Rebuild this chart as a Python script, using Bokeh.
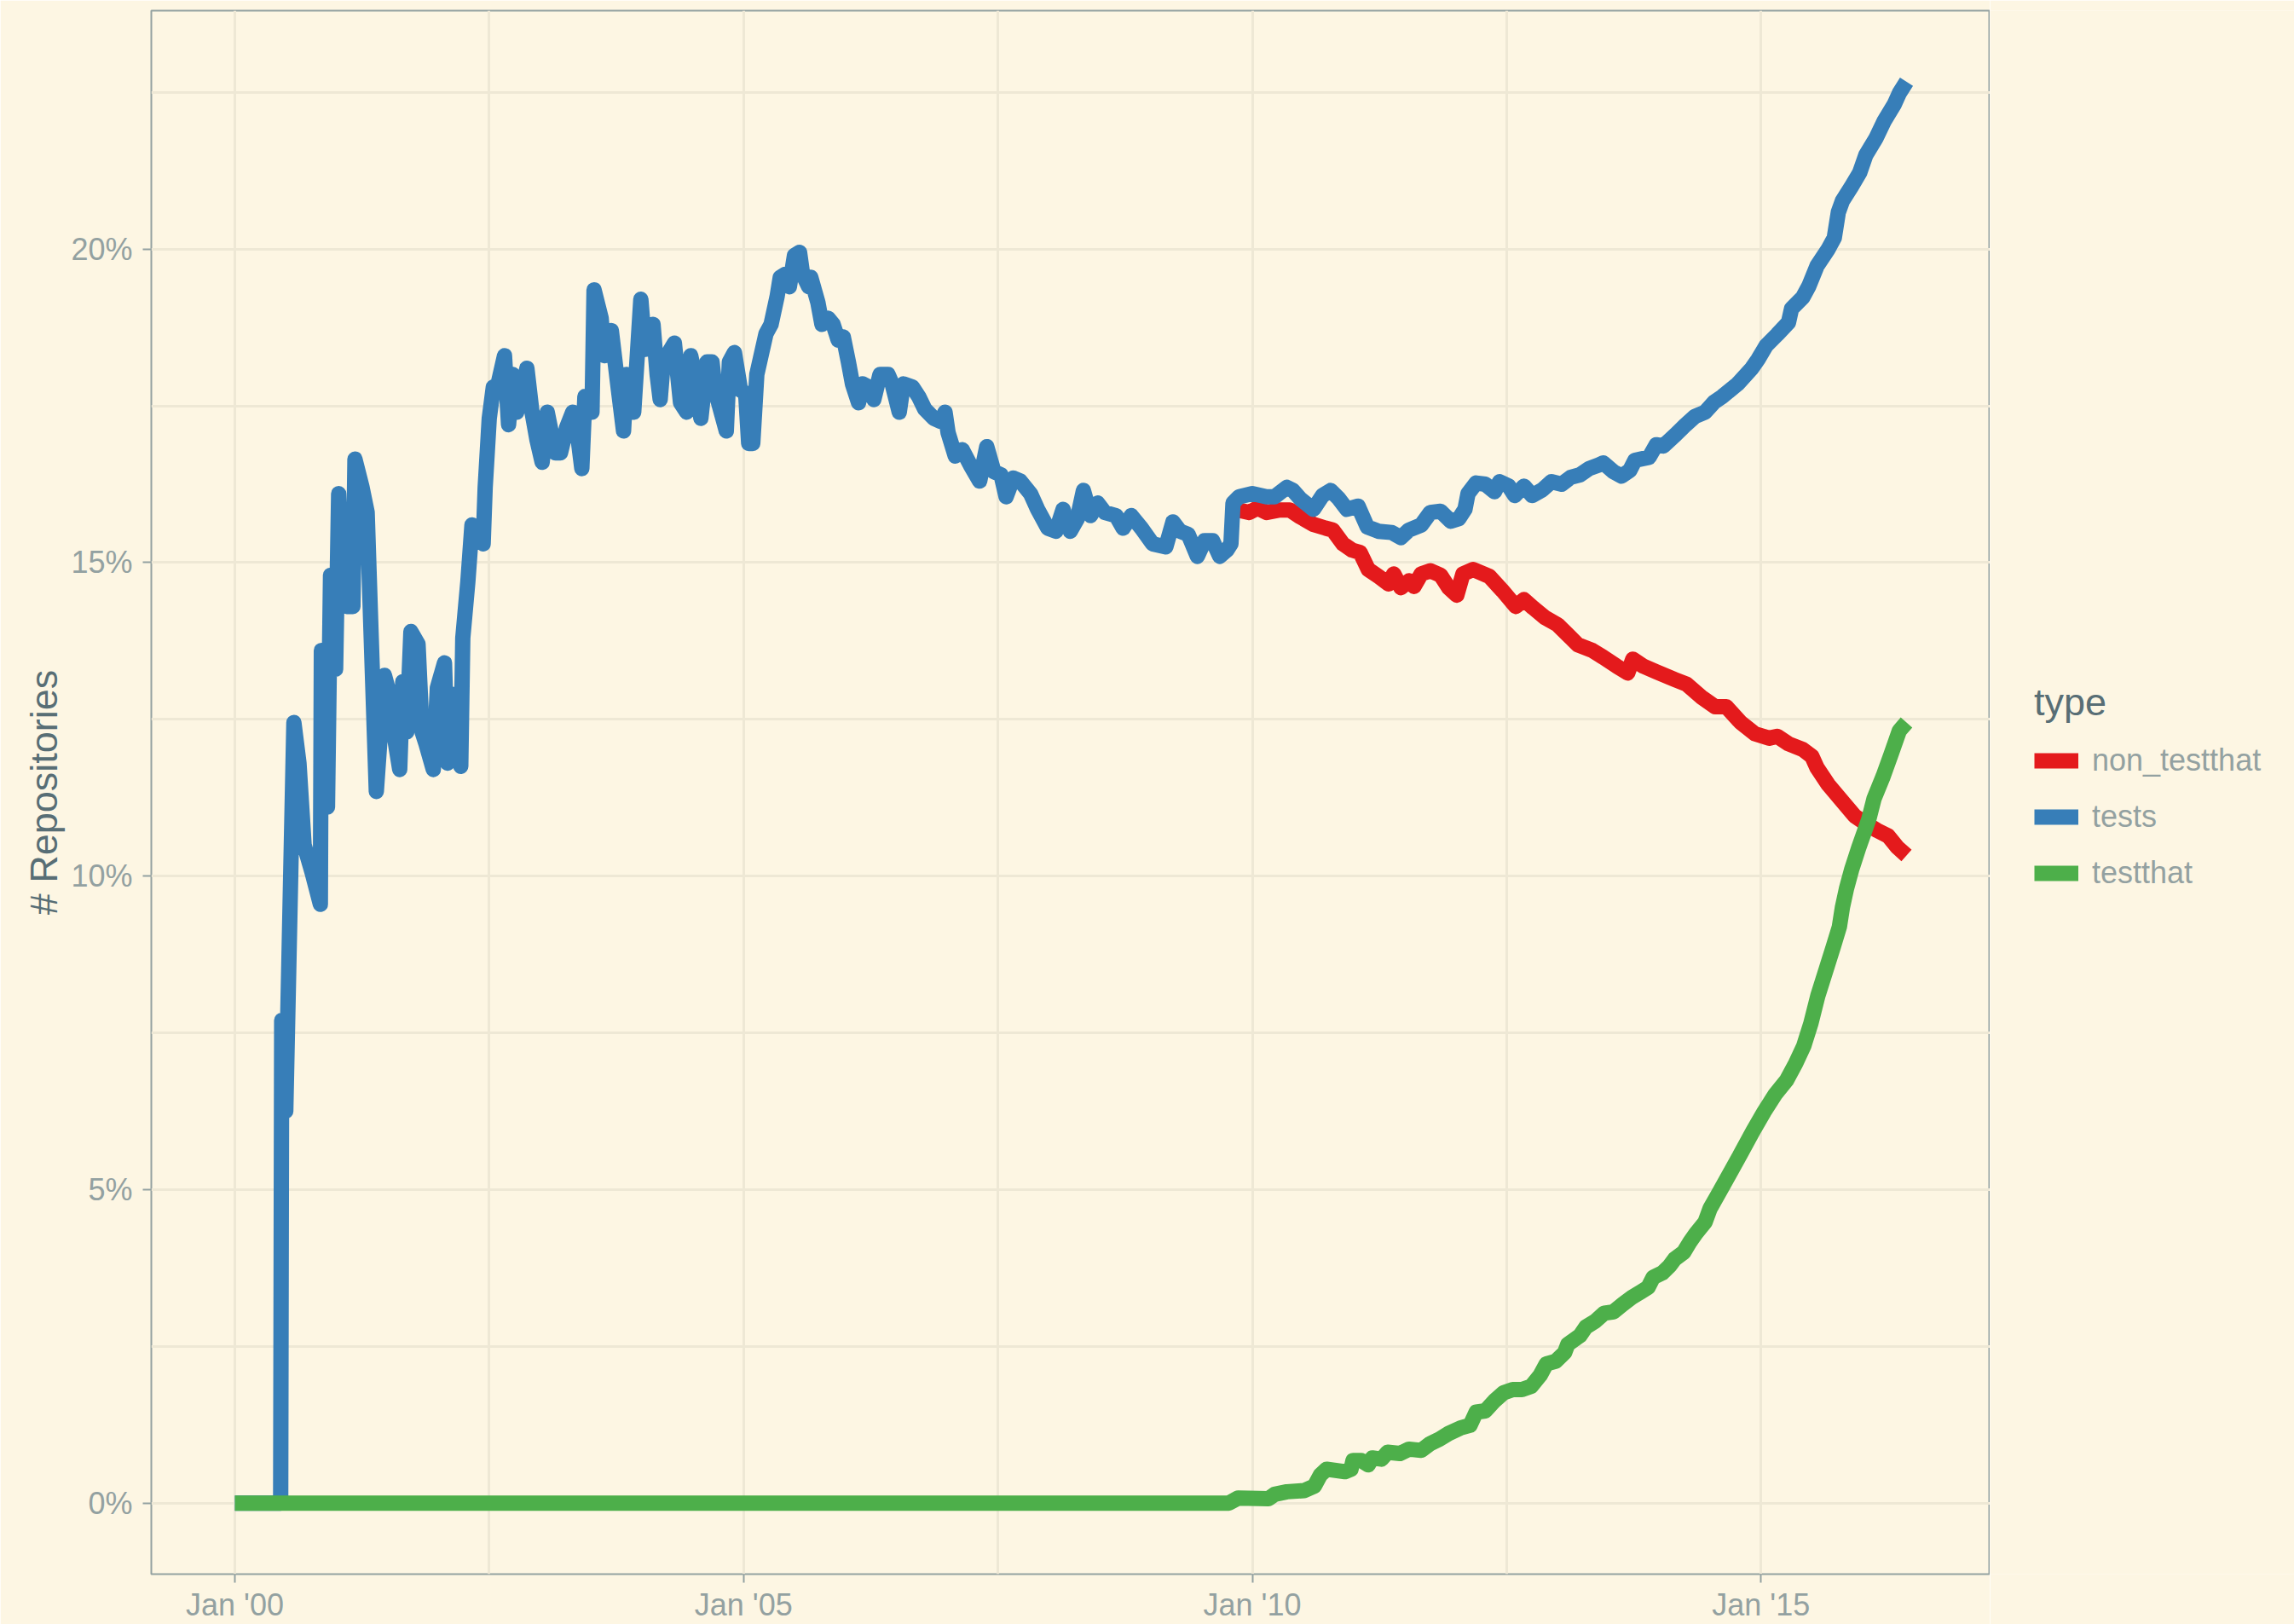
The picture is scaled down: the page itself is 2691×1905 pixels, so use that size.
from bokeh.plotting import figure
from bokeh.layouts import row
from bokeh.models import Range1d, FixedTicker, Legend, LegendItem
from bokeh.embed import file_html
from bokeh.resources import INLINE

# ---------------- data (decimal year, % of repositories) ----------------
tests_year = [2000.00, 2000.45, 2000.46, 2000.50, 2000.58, 2000.63, 2000.68, 2000.76, 2000.84, 2000.85,
              2000.91, 2000.94, 2000.99, 2001.02, 2001.06, 2001.10, 2001.16, 2001.18, 2001.25, 2001.30,
              2001.34, 2001.39, 2001.47, 2001.52, 2001.57, 2001.62, 2001.65, 2001.69, 2001.73, 2001.80,
              2001.84, 2001.88, 2001.95, 2001.99, 2002.06, 2002.09, 2002.14, 2002.18, 2002.22, 2002.24,
              2002.29, 2002.33, 2002.39, 2002.44, 2002.46, 2002.50, 2002.54, 2002.58, 2002.65, 2002.69,
              2002.73, 2002.77, 2002.87, 2002.92, 2002.97, 2003.02, 2003.07, 2003.15, 2003.20, 2003.26,
              2003.32, 2003.36, 2003.41, 2003.44, 2003.51, 2003.53, 2003.60, 2003.63, 2003.70, 2003.77,
              2003.82, 2003.85, 2003.92, 2003.99, 2004.03, 2004.11, 2004.15, 2004.18, 2004.21, 2004.32,
              2004.38, 2004.44, 2004.48, 2004.52, 2004.58, 2004.64, 2004.69, 2004.72, 2004.83, 2004.86,
              2004.91, 2004.97, 2005.02, 2005.05, 2005.09, 2005.13, 2005.22, 2005.27, 2005.33, 2005.36,
              2005.41, 2005.45, 2005.50, 2005.55, 2005.58, 2005.64, 2005.66, 2005.73, 2005.77, 2005.83,
              2005.88, 2005.93, 2005.98, 2006.03, 2006.07, 2006.13, 2006.17, 2006.23, 2006.28, 2006.34,
              2006.42, 2006.46, 2006.53, 2006.57, 2006.66, 2006.72, 2006.78, 2006.87, 2006.94, 2006.98,
              2007.01, 2007.08, 2007.15, 2007.23, 2007.32, 2007.39, 2007.46, 2007.53, 2007.58, 2007.65,
              2007.72, 2007.82, 2007.89, 2007.99, 2008.07, 2008.14, 2008.21, 2008.28, 2008.34, 2008.41,
              2008.48, 2008.55, 2008.66, 2008.73, 2008.81, 2008.91, 2009.02, 2009.15, 2009.22, 2009.29,
              2009.37, 2009.46, 2009.53, 2009.61, 2009.68, 2009.75, 2009.79, 2009.81, 2009.87, 2010.00,
              2010.14, 2010.22, 2010.34, 2010.40, 2010.47, 2010.60, 2010.69, 2010.77, 2010.85, 2010.93,
              2011.04, 2011.13, 2011.24, 2011.37, 2011.46, 2011.54, 2011.66, 2011.75, 2011.85, 2011.95,
              2012.03, 2012.09, 2012.12, 2012.20, 2012.29, 2012.38, 2012.43, 2012.52, 2012.58, 2012.67,
              2012.75, 2012.85, 2012.94, 2013.04, 2013.13, 2013.22, 2013.31, 2013.41, 2013.45, 2013.55,
              2013.63, 2013.71, 2013.76, 2013.90, 2013.97, 2014.04, 2014.16, 2014.26, 2014.35, 2014.45,
              2014.54, 2014.62, 2014.77, 2014.91, 2014.97, 2015.05, 2015.16, 2015.27, 2015.30, 2015.41,
              2015.47, 2015.55, 2015.66, 2015.72, 2015.76, 2015.80, 2015.89, 2015.97, 2016.03, 2016.13,
              2016.21, 2016.31, 2016.36, 2016.43]
tests_pct = [0.00, 0.00, 7.70, 6.25, 12.45, 11.80, 10.50, 10.05, 9.55, 13.60,
             11.10, 14.80, 13.30, 16.10, 14.40, 14.30, 14.30, 16.65, 16.20, 15.80,
             13.80, 11.35, 13.20, 12.90, 12.20, 11.70, 13.10, 12.30, 13.90, 13.70,
             12.30, 12.10, 11.70, 13.00, 13.40, 11.80, 12.90, 12.30, 11.75, 13.80,
             14.70, 15.60, 15.50, 15.30, 16.20, 17.30, 17.80, 17.80, 18.30, 17.20,
             18.00, 17.40, 18.10, 17.40, 16.95, 16.60, 17.40, 16.75, 16.75, 17.15,
             17.40, 17.15, 16.50, 17.65, 17.40, 19.35, 18.90, 18.30, 18.70, 17.75,
             17.10, 18.00, 17.40, 19.20, 18.40, 18.80, 18.00, 17.60, 18.20, 18.50,
             17.55, 17.40, 18.30, 18.00, 17.30, 18.20, 18.20, 17.75, 17.10, 18.20,
             18.35, 17.75, 17.70, 16.90, 16.90, 18.00, 18.65, 18.80, 19.25, 19.55,
             19.60, 19.40, 19.90, 19.95, 19.60, 19.40, 19.55, 19.15, 18.80, 18.90,
             18.80, 18.55, 18.60, 18.20, 17.85, 17.55, 17.85, 17.80, 17.60, 18.00,
             18.00, 17.85, 17.40, 17.85, 17.80, 17.65, 17.45, 17.30, 17.25, 17.40,
             17.07, 16.70, 16.80, 16.55, 16.30, 16.85, 16.45, 16.40, 16.05, 16.35,
             16.30, 16.10, 15.85, 15.55, 15.50, 15.85, 15.50, 15.70, 16.15, 15.75,
             15.95, 15.80, 15.75, 15.55, 15.75, 15.55, 15.30, 15.25, 15.65, 15.50,
             15.45, 15.10, 15.35, 15.35, 15.10, 15.20, 15.30, 15.95, 16.05, 16.10,
             16.05, 16.05, 16.20, 16.15, 16.02, 15.85, 16.07, 16.15, 16.02, 15.85,
             15.90, 15.57, 15.50, 15.48, 15.40, 15.52, 15.60, 15.80, 15.82, 15.66,
             15.70, 15.85, 16.10, 16.27, 16.25, 16.13, 16.29, 16.22, 16.07, 16.22,
             16.07, 16.16, 16.29, 16.25, 16.36, 16.40, 16.50, 16.56, 16.59, 16.45,
             16.38, 16.47, 16.63, 16.68, 16.88, 16.86, 17.04, 17.20, 17.33, 17.40,
             17.56, 17.65, 17.85, 18.10, 18.24, 18.46, 18.64, 18.83, 19.05, 19.23,
             19.41, 19.73, 20.00, 20.18, 20.59, 20.77, 21.00, 21.22, 21.50, 21.77,
             22.04, 22.31, 22.49, 22.67]

non_testthat_year = [2009.83, 2009.97, 2010.05, 2010.14, 2010.27, 2010.37, 2010.47, 2010.60, 2010.72, 2010.79,
                     2010.89, 2010.98, 2011.06, 2011.14, 2011.24, 2011.34, 2011.39, 2011.46, 2011.54, 2011.59,
                     2011.66, 2011.75, 2011.85, 2011.93, 2012.01, 2012.07, 2012.17, 2012.33, 2012.46, 2012.59,
                     2012.67, 2012.76, 2012.88, 2013.00, 2013.10, 2013.20, 2013.34, 2013.45, 2013.58, 2013.69,
                     2013.74, 2013.84, 2013.97, 2014.10, 2014.16, 2014.27, 2014.41, 2014.55, 2014.66, 2014.80,
                     2014.94, 2015.08, 2015.16, 2015.27, 2015.41, 2015.50, 2015.55, 2015.66, 2015.78, 2015.92,
                     2016.00, 2016.14, 2016.25, 2016.34, 2016.43]
non_testthat_pct = [15.85, 15.80, 15.87, 15.80, 15.84, 15.84, 15.73, 15.61, 15.55, 15.52,
                    15.30, 15.20, 15.16, 14.89, 14.78, 14.66, 14.82, 14.60, 14.71, 14.62,
                    14.82, 14.87, 14.80, 14.60, 14.48, 14.82, 14.89, 14.78, 14.55, 14.30,
                    14.41, 14.28, 14.12, 14.01, 13.85, 13.69, 13.60, 13.49, 13.35, 13.24,
                    13.46, 13.35, 13.26, 13.17, 13.13, 13.06, 12.86, 12.70, 12.70, 12.45,
                    12.27, 12.20, 12.23, 12.11, 12.02, 11.91, 11.73, 11.46, 11.23, 10.96,
                    10.87, 10.73, 10.64, 10.46, 10.33]

testthat_year = [2000.00, 2009.77, 2009.86, 2010.16, 2010.22, 2010.34, 2010.51, 2010.61, 2010.67, 2010.73,
                 2010.91, 2010.97, 2010.99, 2011.07, 2011.14, 2011.18, 2011.27, 2011.33, 2011.45, 2011.54,
                 2011.66, 2011.75, 2011.84, 2011.93, 2012.05, 2012.14, 2012.20, 2012.29, 2012.38, 2012.47,
                 2012.56, 2012.65, 2012.74, 2012.83, 2012.89, 2012.98, 2013.07, 2013.10, 2013.22, 2013.28,
                 2013.37, 2013.46, 2013.55, 2013.64, 2013.73, 2013.82, 2013.89, 2013.94, 2014.03, 2014.10,
                 2014.15, 2014.24, 2014.30, 2014.36, 2014.45, 2014.50, 2014.58, 2014.69, 2014.80, 2014.92,
                 2015.03, 2015.14, 2015.25, 2015.34, 2015.42, 2015.49, 2015.56, 2015.64, 2015.71, 2015.77,
                 2015.80, 2015.84, 2015.89, 2015.96, 2016.06, 2016.11, 2016.20, 2016.28, 2016.36, 2016.43]
testthat_pct = [0.00, 0.00, 0.08, 0.07, 0.14, 0.18, 0.20, 0.27, 0.45, 0.54,
                0.50, 0.54, 0.68, 0.68, 0.61, 0.72, 0.70, 0.81, 0.79, 0.86,
                0.84, 0.95, 1.02, 1.11, 1.20, 1.24, 1.45, 1.47, 1.63, 1.76,
                1.81, 1.81, 1.86, 2.04, 2.22, 2.26, 2.40, 2.53, 2.67, 2.81,
                2.90, 3.03, 3.05, 3.17, 3.28, 3.37, 3.44, 3.60, 3.67, 3.78,
                3.89, 4.00, 4.16, 4.30, 4.48, 4.70, 4.93, 5.25, 5.57, 5.93,
                6.24, 6.52, 6.74, 7.01, 7.29, 7.65, 8.10, 8.51, 8.87, 9.19,
                9.50, 9.80, 10.10, 10.45, 10.91, 11.23, 11.59, 11.95, 12.32, 12.45]

series_names = ["non_testthat", "tests", "testthat"]
series_colors = ["#E41A1C", "#377EB8", "#4DAF4A"]

x_major = [2000, 2005, 2010, 2015]
x_minor = [2002.5, 2007.5, 2012.5]
x_labels = ["Jan '00", "Jan '05", "Jan '10", "Jan '15"]
y_major = [0, 5, 10, 15, 20]
y_minor = [2.5, 7.5, 12.5, 17.5, 22.5]
y_labels = ["0%", "5%", "10%", "15%", "20%"]

# ---------------- styling ----------------
BG = "#FDF6E3"
GRID = "#EEE8D5"
TICK_TXT = "#93A1A1"
TITLE_TXT = "#586E75"
FONT = "Liberation Sans"
LINE_W = 18

series_x = [non_testthat_year, tests_year, testthat_year]
series_y = [non_testthat_pct, tests_pct, testthat_pct]

all_x = tests_year + non_testthat_year + testthat_year
all_y = tests_pct + non_testthat_pct + testthat_pct
xpad = 0.05 * (max(all_x) - min(all_x))
ypad = 0.05 * (max(all_y) - min(all_y))

p = figure(width=2334, height=1905, output_backend="svg", toolbar_location=None,
           x_range=Range1d(min(all_x) - xpad, max(all_x) + xpad),
           y_range=Range1d(min(all_y) - ypad, max(all_y) + ypad),
           min_border_left=177, min_border_right=0, min_border_top=12, min_border_bottom=59,
           background_fill_color=BG, border_fill_color=BG)

p.outline_line_color = "#93A1A1"
p.outline_line_width = 2

p.xaxis.ticker = FixedTicker(ticks=x_major, minor_ticks=x_minor)
p.yaxis.ticker = FixedTicker(ticks=y_major, minor_ticks=y_minor)
p.xaxis.major_label_overrides = {t: l for t, l in zip(x_major, x_labels)}
p.yaxis.major_label_overrides = {t: l for t, l in zip(y_major, y_labels)}

for g in (p.xgrid, p.ygrid):
    g.grid_line_color = GRID
    g.grid_line_width = 3
    g.minor_grid_line_color = GRID
    g.minor_grid_line_width = 3

for ax in (p.xaxis, p.yaxis):
    ax.axis_line_color = None
    ax.major_tick_line_color = "#93A1A1"
    ax.major_tick_line_width = 2
    ax.major_tick_in = 0
    ax.major_tick_out = 10
    ax.minor_tick_line_color = None
    ax.major_label_text_font = FONT
    ax.major_label_text_font_size = "36px"
    ax.major_label_text_color = TICK_TXT

p.xaxis.major_label_standoff = 5
p.yaxis.major_label_standoff = 12
p.yaxis.axis_label = "# Repositories"
p.yaxis.axis_label_text_font = FONT
p.yaxis.axis_label_text_font_size = "45px"
p.yaxis.axis_label_text_font_style = "normal"
p.yaxis.axis_label_text_color = TITLE_TXT
p.yaxis.axis_label_standoff = 3

for name, color, xs, ys in zip(series_names, series_colors, series_x, series_y):
    p.line(xs, ys, line_color=color, line_width=LINE_W, line_join="round", line_cap="butt")

# ---------------- legend panel (to the right of the plot) ----------------
# its ranges are chosen so the series themselves fall outside it; only the legend keys show
pl = figure(width=357, height=1905, output_backend="svg", toolbar_location=None,
            x_axis_type=None, y_axis_type=None,
            x_range=Range1d(0, 1), y_range=Range1d(0, 1),
            min_border=0, background_fill_color=BG, border_fill_color=BG)
pl.outline_line_color = None
pl.grid.visible = False

key_renderers = []
for name, color, xs, ys in zip(series_names, series_colors, series_x, series_y):
    kr = pl.line(xs, ys, line_color=color, line_width=LINE_W, line_cap="butt")
    key_renderers.append((name, kr))

legend = Legend(items=[LegendItem(label=n, renderers=[r]) for n, r in key_renderers],
                title="type", location=(52, 789))
legend.title_text_font = FONT
legend.title_text_font_size = "45px"
legend.title_text_font_style = "normal"
legend.title_text_color = TITLE_TXT
legend.title_standoff = 9
legend.label_text_font = FONT
legend.label_text_font_size = "36px"
legend.label_text_color = TICK_TXT
legend.glyph_width = 52
legend.glyph_height = 66
legend.label_height = 66
legend.spacing = 0
legend.label_standoff = 16
legend.padding = 5
legend.margin = 0
legend.border_line_color = None
legend.background_fill_alpha = 0
pl.add_layout(legend)

layout = row(p, pl, spacing=0)
open("out.html", "w").write(file_html(layout, INLINE))
